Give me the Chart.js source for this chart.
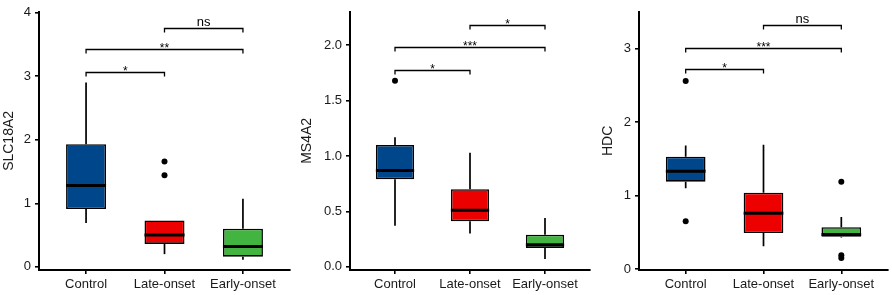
<!DOCTYPE html>
<html>
<head>
<meta charset="utf-8">
<script src="https://cdn.jsdelivr.net/npm/chart.js@4.4.1/dist/chart.umd.min.js"></script>
<style>
  html, body { margin: 0; padding: 0; background: #fff; }
  #wrap { position: relative; width: 892px; height: 295px; }
  .panel { position: absolute; top: 0; height: 295px; }
</style>
</head>
<body>
<div id="wrap">
  <div class="panel" style="left:0;width:295px"><canvas id="slcChart" width="295" height="295"></canvas></div>
  <div class="panel" style="left:295px;width:300px"><canvas id="msChart" width="300" height="295"></canvas></div>
  <div class="panel" style="left:595px;width:297px"><canvas id="hdcChart" width="297" height="295"></canvas></div>
</div>
<script>
const groups = ['Control', 'Late-onset', 'Early-onset'];
const boxColors = ['#00468B', '#ED0000', '#42B540'];
const sigPairs = [[1, 2], [1, 3], [2, 3]];

// SLC18A2
const slcMin = [0.69, 0.20, 0.11];
const slcQ1 = [0.91, 0.36, 0.16];
const slcMed = [1.28, 0.50, 0.32];
const slcQ3 = [1.93, 0.73, 0.60];
const slcMax = [2.90, 0.73, 1.07];
const slcOut = [[], [1.66, 1.44], []];
const slcSigY = [3.07, 3.43, 3.76];
const slcSigLabels = ['*', '**', 'ns'];
const slcTicks = [0, 1, 2, 3, 4];

// MS4A2
const msMin = [0.37, 0.30, 0.07];
const msQ1 = [0.79, 0.41, 0.17];
const msMed = [0.87, 0.51, 0.20];
const msQ3 = [1.10, 0.70, 0.29];
const msMax = [1.17, 1.03, 0.44];
const msOut = [[1.68], [], []];
const msSigY = [1.78, 1.98, 2.18];
const msSigLabels = ['*', '***', '*'];
const msTicks = [0, 0.5, 1.0, 1.5, 2.0];

// HDC
const hdcMin = [1.10, 0.31, 0.43];
const hdcQ1 = [1.19, 0.49, 0.44];
const hdcMed = [1.33, 0.76, 0.47];
const hdcQ3 = [1.53, 1.04, 0.57];
const hdcMax = [1.68, 1.69, 0.71];
const hdcOut = [[2.56, 0.65], [], [1.19, 0.19, 0.15]];
const hdcSigY = [2.72, 3.01, 3.32];
const hdcSigLabels = ['*', '***', 'ns'];
const hdcTicks = [0, 1, 2, 3];

Chart.defaults.font.family = '"Liberation Sans", Arial, sans-serif';
Chart.defaults.font.size = 13;
Chart.defaults.color = '#1a1a1a';

// whiskers, medians and significance brackets, drawn through the chart scales
function boxExtras(s) {
    return {
        id: 'boxExtras',
        beforeDatasetsDraw(chart) {
            const { ctx, scales: { x, y } } = chart;
            ctx.save();
            ctx.strokeStyle = '#000';
            ctx.lineWidth = 1.7;
            s.min.forEach((lo, i) => {
                const px = x.getPixelForValue(i + 1);
                ctx.beginPath();
                ctx.moveTo(px, y.getPixelForValue(s.q3[i]));
                ctx.lineTo(px, y.getPixelForValue(s.max[i]));
                ctx.moveTo(px, y.getPixelForValue(s.q1[i]));
                ctx.lineTo(px, y.getPixelForValue(lo));
                ctx.stroke();
            });
            ctx.restore();
        },
        afterDatasetsDraw(chart) {
            const { ctx, scales: { x, y } } = chart;
            const bars = chart.getDatasetMeta(0).data;
            ctx.save();
            ctx.strokeStyle = '#000';
            ctx.lineWidth = 3;
            s.med.forEach((m, i) => {
                const half = bars[i].width / 2;
                const py = y.getPixelForValue(m);
                ctx.beginPath();
                ctx.moveTo(bars[i].x - half, py);
                ctx.lineTo(bars[i].x + half, py);
                ctx.stroke();
            });

            ctx.lineWidth = 1.3;
            ctx.fillStyle = '#000';
            ctx.textAlign = 'center';
            ctx.textBaseline = 'alphabetic';
            sigPairs.forEach(([a, b], k) => {
                const x1 = x.getPixelForValue(a);
                const x2 = x.getPixelForValue(b);
                const py = Math.round(y.getPixelForValue(s.sigY[k])) + 0.5;
                ctx.beginPath();
                ctx.moveTo(x1, py + 4);
                ctx.lineTo(x1, py);
                ctx.lineTo(x2, py);
                ctx.lineTo(x2, py + 4);
                ctx.stroke();
                const label = s.labels[k];
                if (label === 'ns') {
                    ctx.font = '13px "Liberation Sans", Arial, sans-serif';
                    ctx.fillText(label, (x1 + x2) / 2, py - 3);
                } else {
                    ctx.font = '12px "Liberation Sans", Arial, sans-serif';
                    ctx.fillText(label, (x1 + x2) / 2, py + 2);
                }
            });
            ctx.restore();
        }
    };
}

function makePanel(id, title, s, yMin, yMax, ticks, decimals, axisWidth, titlePad, padRight) {
    return new Chart(document.getElementById(id), {
        type: 'bar',
        data: {
            datasets: [{
                type: 'bar',
                data: groups.map((g, i) => ({ x: i + 1, y: [s.q1[i], s.q3[i]] })),
                backgroundColor: boxColors,
                borderColor: '#000',
                borderWidth: 1.6,
                borderSkipped: false,
                categoryPercentage: 1,
                barPercentage: 0.51
            }, {
                type: 'scatter',
                data: s.out.flatMap((vals, i) => vals.map(v => ({ x: i + 1, y: v }))),
                backgroundColor: '#000',
                borderWidth: 0,
                pointRadius: 3
            }]
        },
        options: {
            responsive: false,
            animation: false,
            layout: { padding: { top: 5, right: padRight, left: 0, bottom: 0 } },
            plugins: { legend: { display: false }, tooltip: { enabled: false } },
            scales: {
                x: {
                    type: 'linear',
                    min: 0.4,
                    max: 3.6,
                    offset: false,
                    grid: { display: true, offset: false, drawOnChartArea: false, drawTicks: true, tickLength: 4, color: '#000', lineWidth: 1.6 },
                    border: { display: true, color: '#000', width: 2 },
                    ticks: { padding: 3, maxRotation: 0, autoSkip: false, callback: v => groups[v - 1] },
                    afterBuildTicks: scale => { scale.ticks = groups.map((g, i) => ({ value: i + 1 })); },
                    afterFit: scale => { scale.height = 25; }
                },
                y: {
                    min: yMin,
                    max: yMax,
                    grid: { display: true, drawOnChartArea: false, drawTicks: true, tickLength: 4, color: '#000', lineWidth: 1.6 },
                    border: { display: true, color: '#000', width: 2 },
                    ticks: { padding: 4, autoSkip: false, callback: v => v.toFixed(decimals) },
                    afterBuildTicks: scale => { scale.ticks = ticks.map(v => ({ value: v })); },
                    afterFit: scale => { scale.width = axisWidth; },
                    title: { display: true, text: title, font: { size: 14 }, padding: { top: titlePad, bottom: 0 } }
                }
            }
        },
        plugins: [boxExtras(s)]
    });
}

makePanel('slcChart', 'SLC18A2',
    { min: slcMin, q1: slcQ1, med: slcMed, q3: slcQ3, max: slcMax, out: slcOut, sigY: slcSigY, labels: slcSigLabels },
    -0.05, 4.015, slcTicks, 0, 39, 1, 5);
makePanel('msChart', 'MS4A2',
    { min: msMin, q1: msQ1, med: msMed, q3: msQ3, max: msMax, out: msOut, sigY: msSigY, labels: msSigLabels },
    -0.029, 2.302, msTicks, 1, 55, 4, 5);
makePanel('hdcChart', 'HDC',
    { min: hdcMin, q1: hdcQ1, med: hdcMed, q3: hdcQ3, max: hdcMax, out: hdcOut, sigY: hdcSigY, labels: hdcSigLabels },
    -0.012, 3.5, hdcTicks, 0, 44, 4.5, 1.5);
</script>
</body>
</html>
